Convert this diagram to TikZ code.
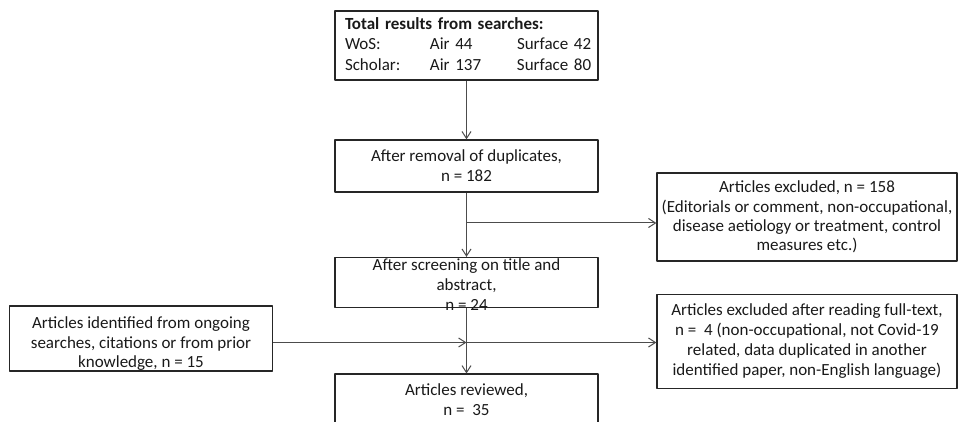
\documentclass[tikz,border=0pt]{standalone}
\usepackage{fontspec}
\setmainfont{Carlito}
\usetikzlibrary{arrows.meta}

\begin{document}
\begin{tikzpicture}[x=0.5pt,y=-0.5pt,>={Straight Barb[length=3.5pt,width=4.5pt]},line join=round]

  \tikzset{
    flowbox/.style={draw=black!85,line width=0.6pt,minimum width=131.5pt,
                    inner sep=0pt,align=center,text=black!90,
                    font=\fontsize{8.5}{10}\selectfont},
    sidebox/.style={flowbox,minimum width=150pt},
    flowtext/.style={inner sep=0pt,align=center,text=black!90,
                    font=\fontsize{8.5}{10}\selectfont},
    flowline/.style={draw=black!70,line width=0.5pt},
  }
  \useasboundingbox (0,0) rectangle (960,422);
  \clip (0,0) rectangle (960,422);

  % ---- main column -------------------------------------------------------
  \node[flowbox,align=left,text width=121.5pt,inner xsep=5pt,minimum height=34.5pt,
        font=\fontsize{8.5}{10.25}\selectfont] (total) at (466.5,45.5)
        {\begin{tabular}{@{}p{42.5pt}@{}p{43.5pt}@{}l@{}}
           \multicolumn{3}{@{}l@{}}{\bfseries Total results from searches:}\\
           WoS:     & Air 44  & Surface 42\\
           Scholar: & Air 137 & Surface 80
         \end{tabular}};
  \node[flowbox,minimum height=26pt] (dedup) at (466.5,166)
        {After removal of duplicates,\\n = 182};
  \node[flowbox,minimum height=25pt] (screen) at (466.5,282.5) {};
  \node[flowtext] (screentext) at (466.5,284.5)
        {After screening on title and\\abstract,\\n = 24};
  \node[flowbox,anchor=north,minimum height=40pt] (reviewed) at (466.5,373.5) {};
  \node[flowtext] (reviewedtext) at (466.5,400)
        {Articles reviewed,\\n = \ 35};

  % ---- side boxes --------------------------------------------------------
  \node[sidebox,minimum height=44pt,font=\fontsize{8.5}{9.65}\selectfont] (excl1) at (807,217)
        {Articles excluded, n = 158\\(Editorials or comment, non-occupational,\\
         disease aetiology or treatment, control\\measures etc.)};
  \node[sidebox,minimum height=47pt] (excl2) at (807,341.5)
        {Articles excluded after reading full-text,\\n = \ 4 (non-occupational, not Covid-19\\
         related, data duplicated in another\\identified paper, non-English language)};
  \node[flowbox,minimum height=32.5pt] (other) at (141,338.5) {};
  \node[flowtext,font=\fontsize{8.5}{9.75}\selectfont] (othertext) at (141,344)
        {Articles identified from ongoing\\searches, citations or from prior\\knowledge, n = 15};

  % ---- connectors --------------------------------------------------------
  \coordinate (branch) at (466.5,223);
  \coordinate (join) at (466.5,342.5);
  \draw[flowline,->] (total.south) -- (dedup.north);
  \draw[flowline,->] (dedup.south) -- (screen.north);
  \draw[flowline,->] (branch) -- (branch -| excl1.west);
  \draw[flowline,->] (screen.south) -- (reviewed.north);
  \draw[flowline,->] (join -| other.east) -- (join);
  \draw[flowline,->] (join) -- (join -| excl2.west);

\end{tikzpicture}
\end{document}
